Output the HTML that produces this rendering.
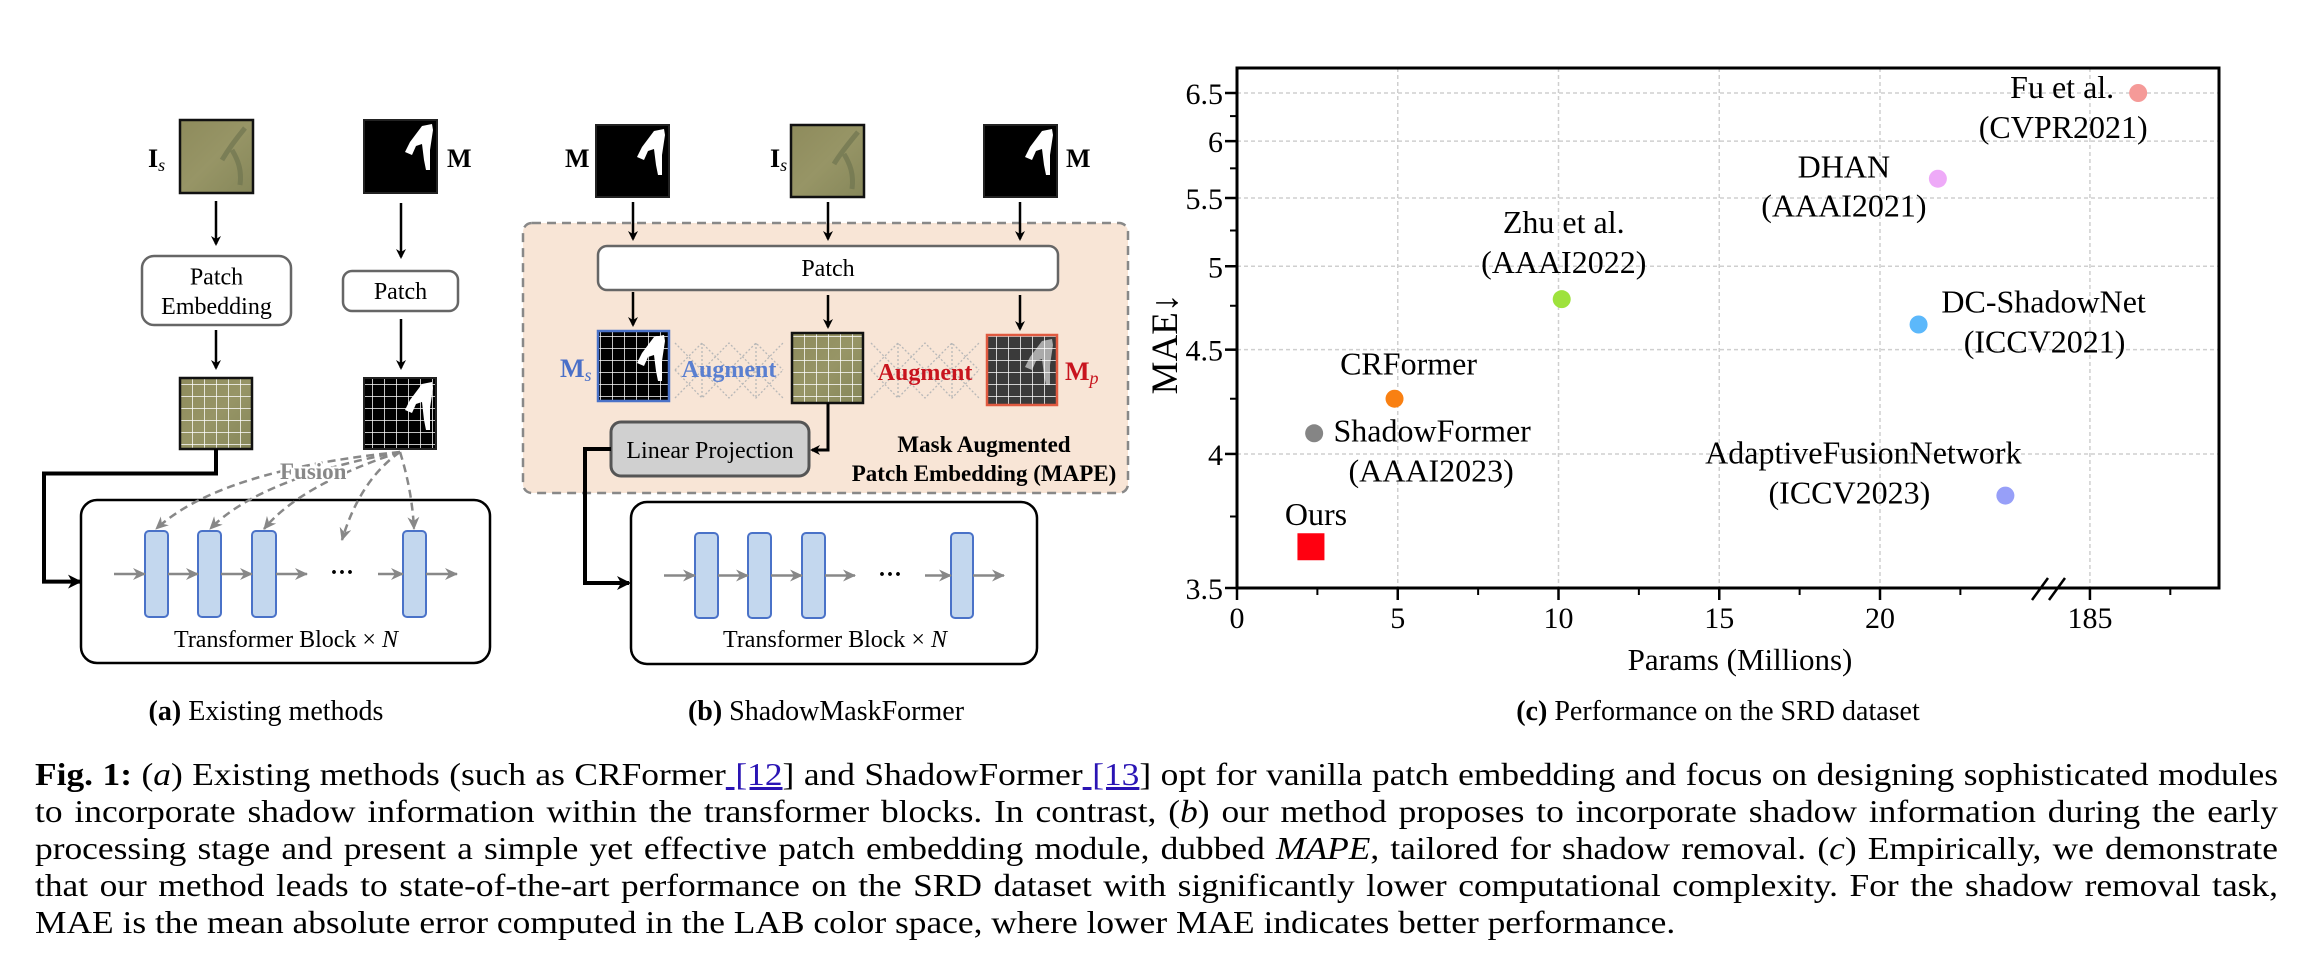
<!DOCTYPE html>
<html><head><meta charset="utf-8"><style>
html,body{margin:0;padding:0;background:#fff;}
body{width:2308px;height:971px;overflow:hidden;position:relative;font-family:"Liberation Serif",serif;}
svg text{font-family:"Liberation Serif",serif;}
#caption{position:absolute;left:35px;top:756px;width:2028px;font-size:32px;line-height:37px;color:#000;transform:scaleX(1.106);transform-origin:0 0;}
#caption div{text-align:justify;text-align-last:justify;white-space:nowrap;height:37px;}
#caption div.last{text-align-last:left;}
.ref{color:#2a14b4;text-decoration:underline;}
</style></head><body>
<svg id="fig" width="2308" height="971" viewBox="0 0 2308 971" xmlns="http://www.w3.org/2000/svg" style="position:absolute;left:0;top:0">
<defs>
<marker id="ah" markerWidth="10" markerHeight="10" refX="8" refY="5" orient="auto" markerUnits="userSpaceOnUse"><path d="M0,0 L10,5 L0,10 L3,5 z" fill="#000"/></marker>
<marker id="ahg" markerWidth="14" markerHeight="12" refX="12" refY="6" orient="auto" markerUnits="userSpaceOnUse"><path d="M0,0 L13,6 L0,12 L4,6 z" fill="#888"/></marker>
<marker id="ahb" markerWidth="14" markerHeight="14" refX="12" refY="7" orient="auto" markerUnits="userSpaceOnUse"><path d="M0,0 L14,7 L0,14 L4,7 z" fill="#000"/></marker>
<linearGradient id="olive" x1="0" y1="0" x2="1" y2="1"><stop offset="0" stop-color="#8e8b5c"/><stop offset="0.5" stop-color="#979566"/><stop offset="1" stop-color="#86875a"/></linearGradient>
<pattern id="grid6" width="12" height="12" patternUnits="userSpaceOnUse"><path d="M0,0 H12 M0,0 V12" stroke="#fff" stroke-width="1.5" fill="none"/></pattern>
</defs>

<g>
  <text x="148" y="167" font-size="26" font-weight="bold">I<tspan font-style="italic" font-weight="normal" font-size="18" dy="4">s</tspan></text>
  <g>
    <rect x="180" y="120" width="73" height="73" fill="url(#olive)" stroke="#111" stroke-width="2.5"/>
    <path d="M245,128 C235,140 228,150 222,160 M232,150 C238,160 242,170 240,185" stroke="#6f7550" stroke-width="5" fill="none" opacity="0.7"/>
  </g>
  <g>
    <rect x="364" y="120" width="73" height="73" fill="#000" stroke="#222" stroke-width="2"/>
    <path d="M432,124 L422,126 L410,142 L405,152 L412,155 L416,146 L422,144 L424,160 L426,170 L430,170 L430,150 L433,130 Z" fill="#fff"/>
  </g>
  <text x="447" y="167" font-size="26" font-weight="bold">M</text>
  <line x1="216" y1="201" x2="216" y2="244" stroke="#000" stroke-width="2.5" marker-end="url(#ah)"/>
  <line x1="401" y1="203" x2="401" y2="257" stroke="#000" stroke-width="2.5" marker-end="url(#ah)"/>
  <g>
    <rect x="142" y="256" width="149" height="69" rx="12" fill="#fff" stroke="#666" stroke-width="2.5"/>
    <text x="216.5" y="284.5" font-size="24" text-anchor="middle">Patch</text>
    <text x="216.5" y="314" font-size="24" text-anchor="middle">Embedding</text>
  </g>
  <g>
    <rect x="343" y="271" width="115" height="40" rx="9" fill="#fff" stroke="#666" stroke-width="2.5"/>
    <text x="400.5" y="299" font-size="24" text-anchor="middle">Patch</text>
  </g>
  <line x1="216" y1="330" x2="216" y2="368" stroke="#000" stroke-width="2.5" marker-end="url(#ah)"/>
  <line x1="401" y1="319" x2="401" y2="368" stroke="#000" stroke-width="2.5" marker-end="url(#ah)"/>
  <g>
    <rect x="180" y="378" width="72" height="71" fill="url(#olive)"/>
    <rect x="180" y="378" width="72" height="71" fill="url(#grid6)"/>
    <rect x="180" y="378" width="72" height="71" fill="none" stroke="#111" stroke-width="2.5"/>
  </g>
  <g>
    <rect x="364" y="378" width="72" height="71" fill="#000"/>
    <path d="M432,382 L422,384 L410,400 L405,410 L412,413 L416,404 L422,402 L424,420 L426,430 L430,430 L430,408 L433,388 Z" fill="#fff"/>
    <rect x="364" y="378" width="72" height="71" fill="url(#grid6)"/>
    <rect x="364" y="378" width="72" height="71" fill="none" stroke="#222" stroke-width="2"/>
  </g>
  <polyline points="216,449 216,473.5 44,473.5 44,581.6 80,581.6" fill="none" stroke="#000" stroke-width="4" marker-end="url(#ahb)"/>
  <g>
    <rect x="81" y="500" width="409" height="163" rx="16" fill="#fff" stroke="#000" stroke-width="2.5"/>
    <g fill="#c3d7ee" stroke="#4a72c8" stroke-width="2">
      <rect x="145" y="531" width="23" height="86" rx="4"/>
      <rect x="198" y="531" width="23" height="86" rx="4"/>
      <rect x="252" y="531" width="24" height="86" rx="4"/>
      <rect x="403" y="531" width="23" height="86" rx="4"/>
    </g>
    <g stroke="#888" stroke-width="2.5" marker-end="url(#ahg)">
      <line x1="114" y1="574" x2="145" y2="574"/>
      <line x1="168" y1="574" x2="198" y2="574"/>
      <line x1="221" y1="574" x2="252" y2="574"/>
      <line x1="276" y1="574" x2="307" y2="574"/>
      <line x1="378" y1="574" x2="403" y2="574"/>
      <line x1="426" y1="574" x2="457" y2="574"/>
    </g>
    <text x="342" y="580" font-size="24" text-anchor="middle" font-weight="bold">···</text>
    <text x="286" y="647" font-size="24" text-anchor="middle">Transformer Block × <tspan font-style="italic">N</tspan></text>
  </g>
  <g fill="none" stroke="#888" stroke-width="2.5" stroke-dasharray="8,5">
    <path d="M400,452 Q220,470 156,529" marker-end="url(#ahg)"/>
    <path d="M400,452 Q260,478 210,529" marker-end="url(#ahg)"/>
    <path d="M400,452 Q300,485 264,529" marker-end="url(#ahg)"/>
    <path d="M400,452 Q360,480 342,540" marker-end="url(#ahg)"/>
    <path d="M400,452 Q412,490 414,529" marker-end="url(#ahg)"/>
  </g>
  <text x="280" y="479" font-size="23" font-weight="bold" fill="#888" stroke="#fff" stroke-width="4" paint-order="stroke">Fusion</text>
  <text x="266" y="720" font-size="28" text-anchor="middle"><tspan font-weight="bold">(a)</tspan>  Existing methods</text>
</g>

<g>
  <rect x="523" y="223" width="605" height="270" rx="9" fill="#f8e5d6" stroke="#888" stroke-width="2.5" stroke-dasharray="9,6"/>
  <text x="565" y="167" font-size="26" font-weight="bold">M</text>
  <g>
    <rect x="596" y="125" width="73" height="72" fill="#000" stroke="#222" stroke-width="2"/>
    <path d="M664,129 L654,131 L642,147 L637,157 L644,160 L648,151 L654,149 L656,165 L658,175 L662,175 L662,155 L665,135 Z" fill="#fff"/>
  </g>
  <text x="770" y="167" font-size="26" font-weight="bold">I<tspan font-style="italic" font-weight="normal" font-size="18" dy="4">s</tspan></text>
  <g>
    <rect x="791" y="125" width="73" height="72" fill="url(#olive)" stroke="#111" stroke-width="2.5"/>
    <path d="M858,132 C848,144 840,154 834,164 M844,154 C850,164 854,174 852,189" stroke="#6f7550" stroke-width="5" fill="none" opacity="0.7"/>
  </g>
  <g>
    <rect x="984" y="125" width="73" height="72" fill="#000" stroke="#222" stroke-width="2"/>
    <path d="M1052,129 L1042,131 L1030,147 L1025,157 L1032,160 L1036,151 L1042,149 L1044,165 L1046,175 L1050,175 L1050,155 L1053,135 Z" fill="#fff"/>
  </g>
  <text x="1066" y="167" font-size="26" font-weight="bold">M</text>
  <g stroke="#000" stroke-width="2.5" marker-end="url(#ah)">
    <line x1="633" y1="202" x2="633" y2="239"/>
    <line x1="828" y1="202" x2="828" y2="239"/>
    <line x1="1020" y1="202" x2="1020" y2="239"/>
  </g>
  <g>
    <rect x="598" y="246" width="460" height="44" rx="9" fill="#fff" stroke="#666" stroke-width="2.5"/>
    <text x="828" y="276" font-size="24" text-anchor="middle">Patch</text>
  </g>
  <g stroke="#000" stroke-width="2.5" marker-end="url(#ah)">
    <line x1="633" y1="292" x2="633" y2="325"/>
    <line x1="828" y1="295" x2="828" y2="327"/>
    <line x1="1020" y1="295" x2="1020" y2="329"/>
  </g>
  <g stroke="#b8b8b8" stroke-width="1.3" stroke-dasharray="2,2" fill="none">
    <path d="M675,343 L729,398 L783,343 M675,398 L729,343 L783,398 M675,370 L702,343 L729,370 L756,343 L783,370 M675,370 L702,398 L729,370 L756,398 L783,370 M702,343 L702,398 M756,343 L756,398"/>
    <path d="M871,343 L925,398 L979,343 M871,398 L925,343 L979,398 M871,370 L898,343 L925,370 L952,343 L979,370 M871,370 L898,398 L925,370 L952,398 L979,370 M898,343 L898,398 M952,343 L952,398"/>
  </g>
  <g>
    <rect x="598" y="331" width="71" height="70" fill="#000"/>
    <path d="M664,335 L654,337 L642,353 L637,363 L644,366 L648,357 L654,355 L656,371 L658,381 L662,381 L662,361 L665,341 Z" fill="#fff"/>
    <rect x="598" y="331" width="71" height="70" fill="url(#grid6)"/>
    <rect x="598" y="331" width="71" height="70" fill="none" stroke="#4a72c8" stroke-width="2.5"/>
  </g>
  <g>
    <rect x="792" y="333" width="71" height="70" fill="url(#olive)"/>
    <rect x="792" y="333" width="71" height="70" fill="url(#grid6)"/>
    <rect x="792" y="333" width="71" height="70" fill="none" stroke="#111" stroke-width="2.5"/>
  </g>
  <g>
    <rect x="987" y="335" width="70" height="70" fill="#3a3a3a"/>
    <path d="M1052,339 L1042,341 L1030,357 L1025,367 L1032,370 L1036,361 L1042,359 L1044,375 L1046,385 L1050,385 L1050,365 L1053,345 Z" fill="#aaa"/>
    <rect x="987" y="335" width="70" height="70" fill="url(#grid6)"/>
    <rect x="987" y="335" width="70" height="70" fill="none" stroke="#e05a40" stroke-width="2.5"/>
  </g>
  <text x="560" y="377" font-size="26" font-weight="bold" fill="#4a6fc8">M<tspan font-style="italic" font-weight="normal" font-size="18" dy="4">s</tspan></text>
  <text x="729" y="377" font-size="24" font-weight="bold" fill="#5a7fd0" text-anchor="middle">Augment</text>
  <text x="925" y="380" font-size="24" font-weight="bold" fill="#c8141e" text-anchor="middle">Augment</text>
  <text x="1065" y="380" font-size="26" font-weight="bold" fill="#c8141e">M<tspan font-style="italic" font-weight="normal" font-size="18" dy="4">p</tspan></text>
  <polyline points="828,403 828,450 812,450" fill="none" stroke="#000" stroke-width="3" marker-end="url(#ah)"/>
  <g>
    <rect x="611" y="422" width="198" height="54" rx="10" fill="#d0d0d0" stroke="#555" stroke-width="3"/>
    <text x="710" y="458" font-size="24" text-anchor="middle">Linear Projection</text>
  </g>
  <text x="984" y="452" font-size="23" font-weight="bold" text-anchor="middle">Mask Augmented</text>
  <text x="984" y="481" font-size="23" font-weight="bold" text-anchor="middle">Patch Embedding (MAPE)</text>
  <polyline points="611,449 585,449 585,583 629,583" fill="none" stroke="#000" stroke-width="4" marker-end="url(#ahb)"/>
  <g>
    <rect x="631" y="502" width="406" height="162" rx="16" fill="#fff" stroke="#000" stroke-width="2.5"/>
    <g fill="#c3d7ee" stroke="#4a72c8" stroke-width="2">
      <rect x="695" y="533" width="23" height="85" rx="4"/>
      <rect x="748" y="533" width="23" height="85" rx="4"/>
      <rect x="802" y="533" width="23" height="85" rx="4"/>
      <rect x="951" y="533" width="22" height="85" rx="4"/>
    </g>
    <g stroke="#888" stroke-width="2.5" marker-end="url(#ahg)">
      <line x1="664" y1="575.5" x2="695" y2="575.5"/>
      <line x1="718" y1="575.5" x2="748" y2="575.5"/>
      <line x1="771" y1="575.5" x2="802" y2="575.5"/>
      <line x1="825" y1="575.5" x2="855" y2="575.5"/>
      <line x1="925" y1="575.5" x2="951" y2="575.5"/>
      <line x1="973" y1="575.5" x2="1004" y2="575.5"/>
    </g>
    <text x="890" y="582" font-size="24" text-anchor="middle" font-weight="bold">···</text>
    <text x="835" y="647" font-size="24" text-anchor="middle">Transformer Block × <tspan font-style="italic">N</tspan></text>
  </g>
  <text x="826" y="720" font-size="28" text-anchor="middle"><tspan font-weight="bold">(b)</tspan>  ShadowMaskFormer</text>
</g>

<g id="chart"></g>
<text x="1718" y="720" font-size="28" text-anchor="middle"><tspan font-weight="bold">(c)</tspan>  Performance on the SRD dataset</text>
</svg>

<div id="caption">
<div><b>Fig. 1:</b> (<i>a</i>) Existing methods (such as CRFormer<span class="ref"> [12</span>] and ShadowFormer<span class="ref"> [13</span>] opt for vanilla patch embedding and focus on designing sophisticated modules</div>
<div>to incorporate shadow information within the transformer blocks. In contrast, (<i>b</i>) our method proposes to incorporate shadow information during the early</div>
<div>processing stage and present a simple yet effective patch embedding module, dubbed <i>MAPE</i>, tailored for shadow removal. (<i>c</i>) Empirically, we demonstrate</div>
<div>that our method leads to state-of-the-art performance on the SRD dataset with significantly lower computational complexity. For the shadow removal task,</div>
<div class="last">MAE is the mean absolute error computed in the LAB color space, where lower MAE indicates better performance.</div>
</div>

<script>
const methods = ["Ours", "ShadowFormer", "CRFormer", "Zhu et al.", "DHAN", "Fu et al.", "DC-ShadowNet", "AdaptiveFusionNetwork"];
const venues = ["", "(AAAI2023)", "", "(AAAI2022)", "(AAAI2021)", "(CVPR2021)", "(ICCV2021)", "(ICCV2023)"];
const paramsM = [2.3, 2.4, 4.9, 10.1, 21.8, 186.5, 21.2, 23.9];
const maeValues = [3.64, 4.09, 4.25, 4.79, 5.66, 6.50, 4.64, 3.83];
const xTicks = [0, 5, 10, 15, 20, 185];
const xMinorTicks = [2.5, 7.5, 12.5, 17.5, 22.5, 187.5];
const yTicks = [3.5, 4, 4.5, 5, 5.5, 6, 6.5];
const yMinorTicks = [3.75, 4.25, 4.75, 5.25, 5.75, 6.25];

const NS = "http://www.w3.org/2000/svg";
const chart = document.getElementById("chart");
const L = 1237, R = 2219, T = 68, B = 588, PXU = 32.15;
const colors = ["#ff0010", "#858585", "#f98012", "#9ee23c", "#eeaaf8", "#f59a98", "#5cb8fb", "#979ff8"];
const labelOff = [[5,-22,0,0],[118,8,117,48],[14,-24,0,0],[2,-66,2,-26],[-94,-1,-94,38],[-76,5,-75,45],[125,-12,126,28],[-142,-32,-156,8]];

function xScale(v){ const xp = v <= 30 ? v : v - 158.47; return L + xp * PXU; }
function yScale(v){ const a = 1/3.5, b = 1/6.5; return B - (a - 1/v)/(a - b) * (B - 80 - 13); }

function mk(tag, attrs, parent){ const e = document.createElementNS(NS, tag); for (const k in attrs) e.setAttribute(k, attrs[k]); (parent||chart).appendChild(e); return e; }

xTicks.forEach(t => {
  if (t === 0) return;
  const g = mk("line", {x1: xScale(t), x2: xScale(t), y1: T, y2: B, stroke: "#cfcfcf", "stroke-width": 1.5, "stroke-dasharray": "4,3"});
  
  
});
yTicks.forEach(t => {
  if (t === 3.5) return;
  const g = mk("line", {x1: L, x2: R, y1: yScale(t), y2: yScale(t), stroke: "#cfcfcf", "stroke-width": 1.5, "stroke-dasharray": "4,3"});
  
  
});
const frame = mk("rect", {x: L, y: T, width: R - L, height: B - T, fill: "none", stroke: "#000", "stroke-width": 3});


xTicks.forEach(t => {
  const x = xScale(t);
  const tk = mk("line", {x1: x, x2: x, y1: B, y2: B + 12, stroke: "#000", "stroke-width": 2.5});
  
  
  const lb = mk("text", {x: x, y: B + 40, "font-size": 30, "text-anchor": "middle"});
  lb.textContent = String(t);
  
  
});
xMinorTicks.forEach(t => {
  const x = xScale(t);
  const tk = mk("line", {x1: x, x2: x, y1: B, y2: B + 7, stroke: "#000", "stroke-width": 2});
  
  
});
yTicks.forEach(t => {
  const y = yScale(t);
  const tk = mk("line", {x1: L - 12, x2: L, y1: y, y2: y, stroke: "#000", "stroke-width": 2.5});
  
  
  const lb = mk("text", {x: L - 14, y: y + 11, "font-size": 30, "text-anchor": "end"});
  lb.textContent = String(t);
  
  
});
yMinorTicks.forEach(t => {
  const y = yScale(t);
  const tk = mk("line", {x1: L - 7, x2: L, y1: y, y2: y, stroke: "#000", "stroke-width": 2});
  
  
});
const brk = mk("path", {d: "M2032,600 L2048,578 M2049,600 L2065,578", stroke: "#000", "stroke-width": 2.5, fill: "none"});


const xt = mk("text", {x: 1740, y: 670, "font-size": 31, "text-anchor": "middle"});
xt.textContent = "Params (Millions)";


const yt = mk("text", {x: 0, y: 0, "font-size": 37, "text-anchor": "middle", transform: "translate(1177,344) rotate(-90)"});
yt.textContent = "MAE↓";



methods.forEach((m, i) => {
  const cx = xScale(paramsM[i]), cy = yScale(maeValues[i]);
  let p;
  if (i === 0) {
    p = mk("rect", {x: cx - 13.5, y: cy - 13.5, width: 27, height: 27, fill: colors[i]});
  } else {
    p = mk("circle", {cx: cx, cy: cy, r: 9, fill: colors[i]});
  }
  
  
  const o = labelOff[i];
  const t1 = mk("text", {x: cx + o[0], y: cy + o[1], "font-size": 32, "text-anchor": "middle"});
  t1.textContent = m;
  
  
  if (venues[i]) {
    const t2 = mk("text", {x: cx + o[2], y: cy + o[3], "font-size": 32, "text-anchor": "middle"});
    t2.textContent = venues[i];
    
    
  }
});
</script>
</body></html>
